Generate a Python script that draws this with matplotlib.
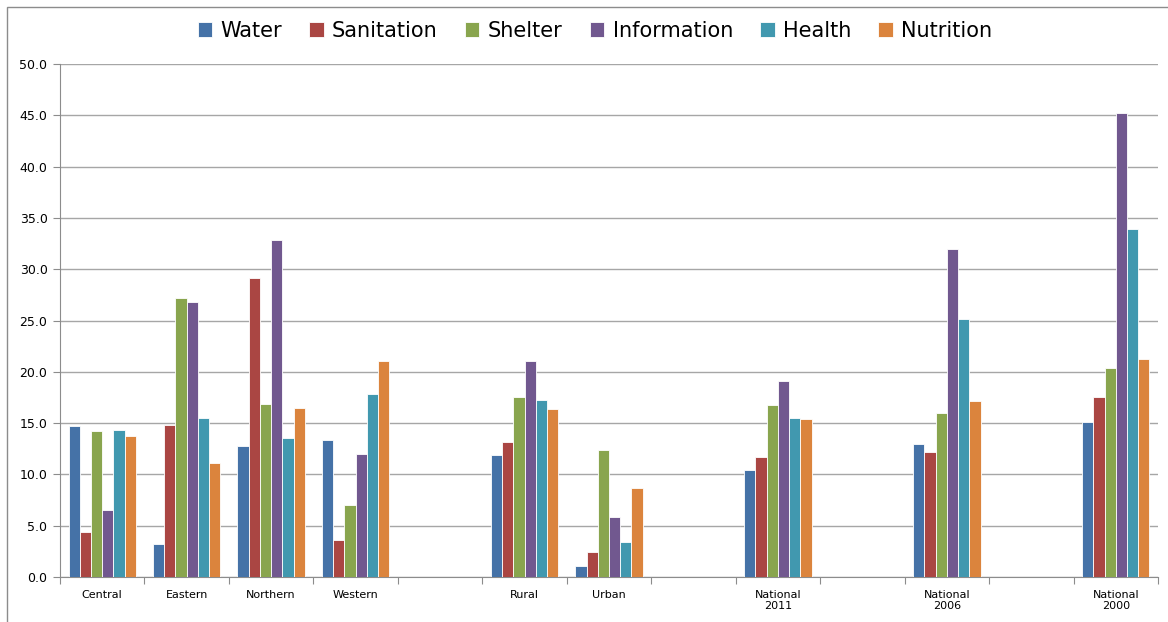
import matplotlib

matplotlib.use("Agg")
import matplotlib.pyplot as plt
import numpy as np
from matplotlib.patches import Rectangle

CATEGORIES = ["Central", "Eastern", "Northern", "Western", "", "Rural", "Urban", "",
              "National\n2011", "", "National\n2006", "", "National\n2000"]
SERIES = ["Water", "Sanitation", "Shelter", "Information", "Health", "Nutrition"]
COLORS = ["#4572A7", "#AA4643", "#89A54E", "#71588F", "#4198AF", "#DB843D"]

NAN = np.nan
water = [14.7, 3.2, 12.8, 13.4, NAN, 11.9, 1.1, NAN, 10.4, NAN, 13.0, NAN, 15.1]
sanitation = [4.4, 14.8, 29.1, 3.6, NAN, 13.2, 2.4, NAN, 11.7, NAN, 12.2, NAN, 17.5]
shelter = [14.2, 27.2, 16.9, 7.0, NAN, 17.5, 12.4, NAN, 16.8, NAN, 16.0, NAN, 20.4]
information = [6.5, 26.8, 32.8, 12.0, NAN, 21.1, 5.8, NAN, 19.1, NAN, 32.0, NAN, 45.2]
health = [14.3, 15.5, 13.5, 17.8, NAN, 17.3, 3.4, NAN, 15.5, NAN, 25.1, NAN, 33.9]
nutrition = [13.7, 11.1, 16.5, 21.1, NAN, 16.4, 8.7, NAN, 15.4, NAN, 17.2, NAN, 21.2]
VALUES = [water, sanitation, shelter, information, health, nutrition]

GRID = "#A6A6A6"
AXIS = "#8C8C8C"

plt.rcParams["font.family"] = "DejaVu Sans"

fig = plt.figure(figsize=(11.68, 6.22), dpi=100)
ax = fig.add_axes([60 / 1168, 45 / 622, 1098 / 1168, 513 / 622])

x = np.arange(len(CATEGORIES))
width = 0.133
for i, (name, vals, color) in enumerate(zip(SERIES, VALUES, COLORS)):
    ax.bar(x + (i - 2.5) * width, vals, width, color=color, label=name,
           edgecolor="white", linewidth=0.6, zorder=3)

ax.set_xlim(-0.5, len(CATEGORIES) - 0.5)
ax.set_ylim(0, 50)
ax.set_yticks(np.arange(0, 50.1, 5))
ax.set_yticklabels([f"{v:.1f}" for v in np.arange(0, 50.1, 5)], fontsize=9)
ax.set_xticks(np.arange(-0.5, len(CATEGORIES)), labels=[])
ax.set_xticks(x, labels=CATEGORIES, minor=True)
ax.tick_params(axis="x", which="major", length=5, color=AXIS, direction="out")
ax.tick_params(axis="x", which="minor", length=0, labelsize=8, pad=9)
ax.tick_params(axis="y", length=5, color=AXIS, pad=4)
ax.grid(axis="y", color=GRID, linewidth=1.0, zorder=0)
ax.set_axisbelow(True)
for side in ["top", "right"]:
    ax.spines[side].set_visible(False)
ax.spines["left"].set_color(AXIS)
ax.spines["bottom"].set_color(AXIS)

fig.legend(loc="center", bbox_to_anchor=(595 / 1168, 1 - 31 / 622), ncol=6,
           frameon=False, fontsize=15, handlelength=0.7, handleheight=0.7,
           handletextpad=0.4, columnspacing=1.3)

fig.patches.append(Rectangle((7 / 1168, -0.1), 1.2, 1 - 7 / 622 + 0.1,
                             transform=fig.transFigure, fill=False,
                             edgecolor="#8C8C8C", linewidth=1.0))

fig.savefig("out.png", dpi=100)
